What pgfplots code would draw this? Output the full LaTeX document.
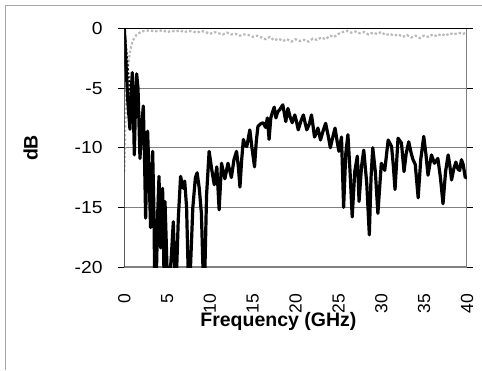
\documentclass[border=0pt]{standalone}
\usepackage{pgfplots}
\pgfplotsset{compat=1.18}
\usepackage{graphicx}
\usepackage{fontspec}
\setmainfont{Liberation Sans}
\definecolor{gridgray}{RGB}{128,128,128}
\definecolor{lightgr}{RGB}{185,185,185}
\newcommand{\sx}[1]{\scalebox{1.1}[1]{#1}}
\begin{document}
\begin{tikzpicture}[x=1pt,y=1pt]
\useasboundingbox (0,0) rectangle (482,370);
\draw[color=gridgray!70, line width=1pt] (5,0) -- (5,364) -- (482,364);
\begin{axis}[
  at={(124.3pt,103pt)}, anchor=south west,
  scale only axis, width=342.7pt, height=238.5pt,
  xmin=0, xmax=40, ymin=-20, ymax=0,
  axis line style={draw=none},
  xtick={0,5,10,15,20,25,30,35,40},
  ytick={-20,-15,-10,-5,0},
  yticklabels={\sx{-20},\sx{-15},\sx{-10},\sx{-5},\sx{0}},
  x tick style={draw=none},
  y tick style={black, line width=0.8pt},
  tick align=outside, major tick length=6pt,
  ymajorgrids, major grid style={gridgray, line width=0.9pt},
  /pgf/number format/assume math mode=true,
  tick label style={font=\fontsize{17.5}{17.5}\selectfont, inner sep=0pt},
  xticklabel style={rotate=90, anchor=east},
  xticklabel shift=21pt,
  yticklabel style={anchor=east},
  yticklabel shift=15.6pt,
  clip=true,
]
\draw[gridgray, line width=1.2pt] (rel axis cs:0,0) -- (rel axis cs:1,0) -- (rel axis cs:1,1);
\addplot[lightgr, line width=2.2pt, dash pattern=on 2.4pt off 2pt] coordinates {
(0.00,-12) (0.05,-10.5) (0.10,-8.5) (0.18,-6.5) (0.28,-4.8) (0.40,-3.4) (0.55,-2.5) (0.70,-1.8) (0.85,-1.4) (1.00,-1.0) (1.20,-0.8) (1.40,-0.55) (1.70,-0.4) (2.0,-0.25)
(2.5,-0.2) (3.0,-0.15) (3.5,-0.25) (4.0,-0.2) (4.5,-0.15) (5.0,-0.3) (5.5,-0.2) (6.0,-0.25) (6.5,-0.15) (7.0,-0.3) (7.5,-0.2) (8.0,-0.25) (8.5,-0.35) (9.0,-0.2) (9.5,-0.3)
(10.0,-0.45) (10.5,-0.3) (11.0,-0.4) (11.5,-0.5) (12.0,-0.35) (12.5,-0.5) (13.0,-0.45) (13.5,-0.6) (14.0,-0.5) (14.5,-0.55) (15.0,-0.7) (15.5,-0.6) (16.0,-0.75) (16.5,-0.9) (17.0,-0.7)
(17.5,-1.0) (18.0,-0.85) (18.5,-1.05) (19.0,-0.9) (19.5,-1.1) (20.0,-0.9) (20.5,-1.05) (21.0,-0.95) (21.5,-1.1) (22.0,-0.85) (22.5,-0.95) (23.0,-0.75) (23.5,-0.9) (24.0,-0.6) (24.5,-0.7)
(25.0,-0.45) (25.5,-0.3) (26.0,-0.2) (26.5,-0.35) (27.0,-0.25) (27.5,-0.4) (28.0,-0.3) (28.5,-0.5) (29.0,-0.35) (29.5,-0.45) (30.0,-0.3) (30.5,-0.55) (31.0,-0.45) (31.5,-0.6) (32.0,-0.5)
(32.5,-0.7) (33.0,-0.55) (33.5,-0.75) (34.0,-0.6) (34.5,-0.8) (35.0,-0.6) (35.5,-0.7) (36.0,-0.5) (36.5,-0.65) (37.0,-0.45) (37.5,-0.6) (38.0,-0.4) (38.5,-0.5) (39.0,-0.35) (39.5,-0.45) (40.0,-0.35)
};
\addplot[black, line width=2pt, dash pattern=on 2pt off 2pt] coordinates {
(0.00,0) (0.15,-1.0) (0.35,-2.8) (0.55,-4.5) (0.80,-6.6)
};
\addplot[black, line width=3.2pt, line join=round] coordinates {
(0.00,0) (0.08,-1.0) (0.20,-3.0) (0.40,-6.0) (0.66,-8.45) (0.80,-5.5) (0.93,-3.7) (1.05,-6.5) (1.17,-10.6) (1.30,-6.5) (1.44,-3.8) (1.60,-5.0) (1.83,-10.9) (2.00,-8.5) (2.22,-6.5) (2.35,-10.5) (2.49,-15.9) (2.60,-12.0) (2.72,-8.6) (2.90,-12.5) (3.07,-16.7) (3.20,-13.0) (3.31,-10.3) (3.45,-15.0) (3.54,-20.5) (3.75,-20.5) (3.90,-15.5) (4.05,-12.4) (4.24,-18.4) (4.47,-13.4) (4.63,-20.5) (4.75,-14.5) (4.90,-18.0) (5.00,-20.5) (5.13,-20.5) (5.35,-20.5) (5.50,-19) (5.72,-16.2) (5.90,-20.5) (6.10,-20.5) (6.30,-16.0) (6.57,-12.4) (6.75,-13.0) (6.88,-13.4) (7.05,-12.8) (7.27,-15.0) (7.46,-20.5) (7.70,-20.5) (8.00,-15.0) (8.30,-12.5) (8.50,-12.1) (8.75,-13.4) (9.00,-15.5) (9.20,-20.5) (9.40,-20.5) (9.60,-14.0) (9.90,-10.3)
(10.20,-11.8) (10.50,-13.1) (10.80,-11.6) (11.07,-15.2) (11.35,-11.3) (11.55,-12.0) (11.74,-12.6) (12.10,-11.3) (12.50,-12.5) (12.80,-11.0) (13.10,-10.3) (13.30,-11.5) (13.50,-13.3) (13.70,-11.0) (13.90,-9.3) (14.10,-9.8) (14.30,-9.9) (14.65,-8.5) (14.90,-10.0) (15.20,-11.6) (15.40,-9.5) (15.60,-8.2) (15.90,-8.0) (16.20,-7.9) (16.50,-8.3) (16.70,-7.5) (16.90,-9.3) (17.10,-7.5) (17.30,-7.0) (17.50,-6.6) (17.70,-7.5) (17.90,-7.0) (18.15,-6.8) (18.50,-6.4) (18.70,-7.2) (18.85,-7.8) (19.10,-6.7) (19.35,-7.4) (19.60,-7.9) (19.90,-7.25)
(20.10,-7.8) (20.30,-8.5) (20.60,-7.8) (20.90,-7.25) (21.10,-7.9) (21.30,-8.5) (21.60,-8.0) (21.85,-7.25) (22.00,-8.0) (22.20,-9.1) (22.40,-8.8) (22.60,-8.35) (22.90,-9.35) (23.20,-8.6) (23.50,-7.95) (23.80,-9.0) (24.05,-10.0) (24.30,-9.2) (24.60,-8.35) (24.85,-9.5) (25.05,-10.3) (25.35,-9.1) (25.60,-15.0) (25.85,-10.5) (26.10,-8.9) (26.35,-12.0) (26.60,-15.8) (26.90,-12.0) (27.20,-10.7) (27.40,-14.5) (27.70,-11.5) (27.95,-10.2) (28.30,-13.0) (28.60,-17.3) (28.80,-12.5) (29.00,-10.0) (29.30,-12.0) (29.60,-15.5)
(30.00,-11.3) (30.40,-11.9) (30.80,-9.35) (31.20,-9.9) (31.40,-11.5) (31.60,-13.5) (31.95,-9.2) (32.35,-9.6) (32.65,-12.0) (32.90,-10.5) (33.20,-9.5) (33.50,-10.5) (33.70,-11.0) (33.96,-11.4) (34.30,-14.2) (34.60,-11.0) (34.95,-9.05) (35.20,-10.5) (35.45,-12.3) (35.85,-10.6) (36.20,-11.3) (36.60,-10.9) (36.90,-12.5) (37.20,-14.7) (37.50,-12.0) (37.80,-10.6) (38.00,-11.5) (38.20,-12.7) (38.45,-11.8) (38.70,-11.2) (38.95,-11.8) (39.15,-11.9) (39.35,-11.0) (39.55,-11.4) (39.80,-12.5) (40.00,-12.5)
};
\draw[black, line width=1.2pt] (rel axis cs:0,0) -- (rel axis cs:0,1) -- (rel axis cs:1,1);
\end{axis}
\node[anchor=base, font=\bfseries\fontsize{19.5}{19.5}\selectfont, inner sep=0pt] at (278.4,43.3) {Frequency (GHz)};
\node[anchor=base, rotate=90, font=\bfseries\fontsize{19.5}{19.5}\selectfont, inner sep=0pt] at (37.7,222) {dB};
\end{tikzpicture}
\end{document}
